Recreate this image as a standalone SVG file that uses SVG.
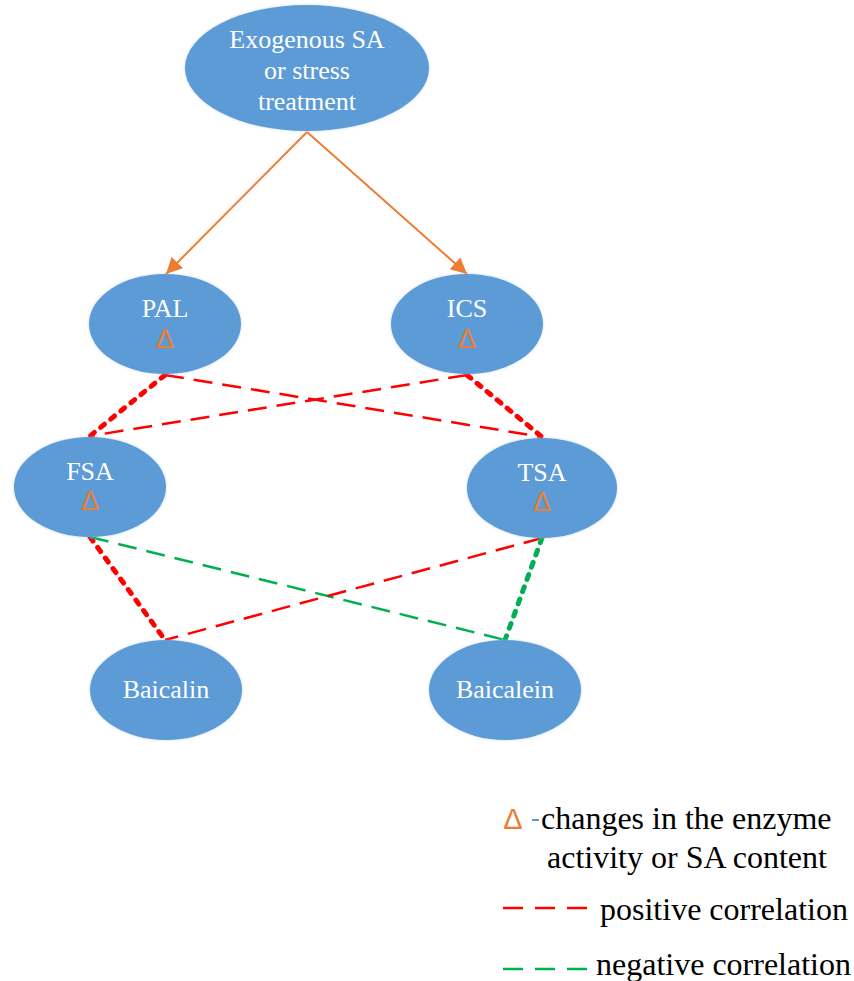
<svg xmlns="http://www.w3.org/2000/svg" width="854" height="981" viewBox="0 0 854 981">
<defs>
<marker id="arr" viewBox="0 0 10 10" refX="10" refY="5" markerWidth="18" markerHeight="16" markerUnits="userSpaceOnUse" orient="auto">
<path d="M0,0 L10,5 L0,10 z" fill="#ED7D31"/>
</marker>
<filter id="soft" x="-10%" y="-10%" width="120%" height="120%">
<feGaussianBlur in="SourceAlpha" stdDeviation="1.5" result="b"/>
<feFlood flood-color="#9DC3E6" flood-opacity="0.6"/>
<feComposite in2="b" operator="in" result="s"/>
<feMerge><feMergeNode in="s"/><feMergeNode in="SourceGraphic"/></feMerge>
</filter>
</defs>
<style>
.node{fill:#5B9BD5;filter:url(#soft)}
.lbl{font-family:"Liberation Serif","Times New Roman",serif;font-size:26px;fill:#FFFFFF;text-anchor:middle}
.delta{font-family:"Liberation Sans",Arial,sans-serif;font-size:27px;fill:#ED7D31;text-anchor:middle}
.pos{stroke:#FF0000;stroke-width:2.5;fill:none;stroke-dasharray:19 10}
.neg{stroke:#00B050;stroke-width:2.5;fill:none;stroke-dasharray:19 10}
.posd{stroke:#FF0000;stroke-width:5;fill:none;stroke-dasharray:5 8;stroke-linecap:round}
.negd{stroke:#00B050;stroke-width:5;fill:none;stroke-dasharray:5 8;stroke-linecap:round}
.arrow{stroke:#ED7D31;stroke-width:2;fill:none}
.leg{font-family:"Liberation Serif","Times New Roman",serif;font-size:32px;fill:#000000}
</style>
<rect width="854" height="981" fill="#FFFFFF"/>
<g id="connectors">
<line class="arrow" x1="307" y1="132" x2="166" y2="274" marker-end="url(#arr)"/>
<line class="arrow" x1="307" y1="132" x2="467" y2="274" marker-end="url(#arr)"/>
<line class="posd" x1="165" y1="375" x2="90" y2="436"/>
<line class="pos" x1="165" y1="375" x2="542" y2="437"/>
<line class="pos" x1="467" y1="375" x2="90" y2="436"/>
<line class="posd" x1="467" y1="375" x2="542" y2="437"/>
<line class="posd" x1="90" y1="537" x2="165" y2="640"/>
<line class="neg" x1="90" y1="537" x2="505" y2="640"/>
<line class="pos" x1="542" y1="538" x2="165" y2="640"/>
<line class="negd" x1="542" y1="538" x2="505" y2="640"/>
</g>
<g id="node-exogenous">
<ellipse class="node" cx="307" cy="68" rx="122" ry="63"/>
<text class="lbl" x="307" y="48">Exogenous SA</text>
<text class="lbl" x="307" y="79">or stress</text>
<text class="lbl" x="307" y="110">treatment</text>
</g>
<g id="node-pal">
<ellipse class="node" cx="165" cy="324" rx="76" ry="50"/>
<text class="lbl" x="165" y="317">PAL</text>
<text class="delta" x="165" y="348">Δ</text>
</g>
<g id="node-ics">
<ellipse class="node" cx="467" cy="324" rx="76" ry="50"/>
<text class="lbl" x="467" y="317">ICS</text>
<text class="delta" x="467" y="348">Δ</text>
</g>
<g id="node-fsa">
<ellipse class="node" cx="90" cy="487" rx="76" ry="50"/>
<text class="lbl" x="90" y="480">FSA</text>
<text class="delta" x="90" y="510">Δ</text>
</g>
<g id="node-tsa">
<ellipse class="node" cx="542" cy="488" rx="75" ry="50"/>
<text class="lbl" x="542" y="481">TSA</text>
<text class="delta" x="542" y="511">Δ</text>
</g>
<g id="node-baicalin">
<ellipse class="node" cx="166" cy="690" rx="76" ry="50"/>
<text class="lbl" x="166" y="698">Baicalin</text>
</g>
<g id="node-baicalein">
<ellipse class="node" cx="505" cy="690" rx="76" ry="50"/>
<text class="lbl" x="505" y="698">Baicalein</text>
</g>
<g id="legend">
<text class="delta" x="513" y="829" style="font-size:29px">Δ</text>
<line x1="532" y1="820" x2="539" y2="820" stroke="#5B9BD5" stroke-width="2"/>
<text class="leg" x="541" y="829">changes in the enzyme</text>
<text class="leg" x="547" y="868">activity or SA content</text>
<line x1="503" y1="908" x2="587" y2="908" stroke="#FF0000" stroke-width="2.5" stroke-dasharray="20 12"/>
<text class="leg" x="600" y="920">positive correlation</text>
<line x1="503" y1="969" x2="587" y2="969" stroke="#00B050" stroke-width="2.5" stroke-dasharray="20 12"/>
<text class="leg" x="596" y="975">negative correlation</text>
</g>
</svg>
